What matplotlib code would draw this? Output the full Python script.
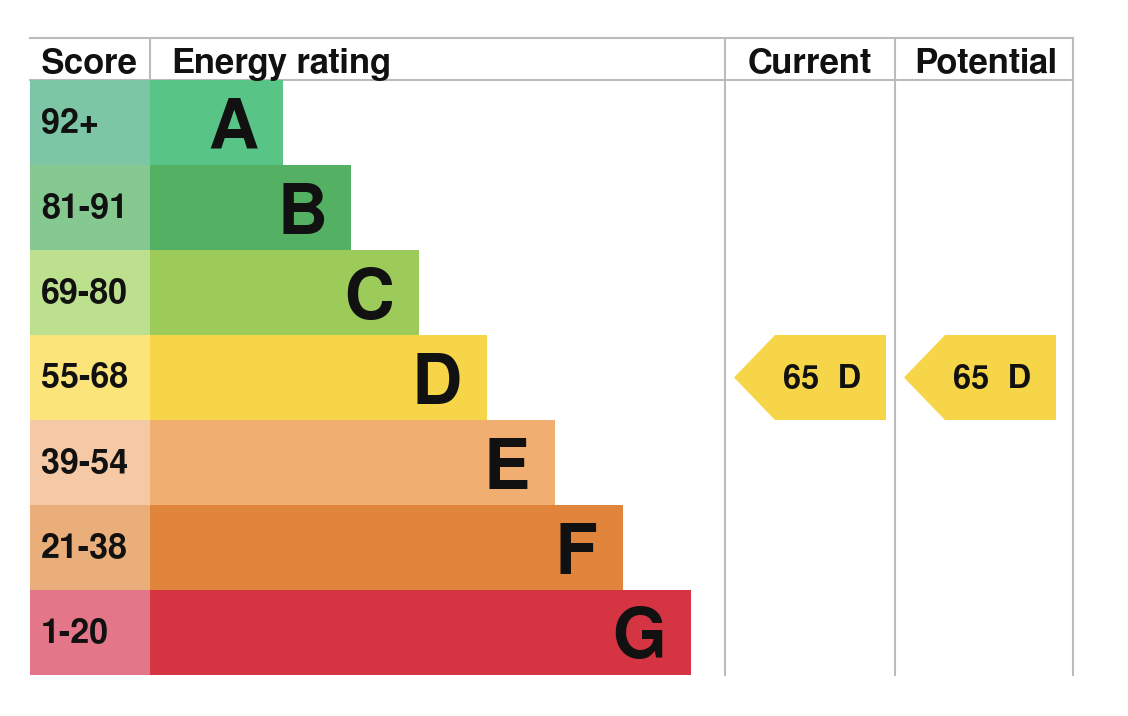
import matplotlib.pyplot as plt
from matplotlib.patches import Polygon

# EPC bands
bands = ['A', 'B', 'C', 'D', 'E', 'F', 'G']
scores = ['92+', '81-91', '69-80', '55-68', '39-54', '21-38', '1-20']
score_colors = ['#7cc5a5', '#86c990', '#bde08f', '#fbe57a', '#f5c9a5', '#e9ae7a', '#e37789']
bar_colors = ['#58c486', '#54b062', '#9ccb5a', '#f7d548', '#f0ae70', '#e0853b', '#d53443']
headers = ['Score', 'Energy rating', 'Current', 'Potential']
current_score, current_band = 65, 'D'
potential_score, potential_band = 65, 'D'

plt.rcParams['font.family'] = ['FreeSans', 'Liberation Sans', 'DejaVu Sans']
plt.rcParams['font.weight'] = 'bold'

W, H = 1128, 716
fig = plt.figure(figsize=(W / 100, H / 100), dpi=100)
ax = fig.add_axes([0, 0, 1, 1])
ax.set_xlim(0, W)
ax.set_ylim(H, 0)
ax.axis('off')

# layout (pixels)
left, score_w, top, head_h, row_h = 30, 120, 38, 42, 85
bar_left = left + score_w
cols = [725, 895, 1073]
bar_base, bar_step = 65, 68
grid_c = '#bbbbbb'
ink = '#111111'

y0 = top + head_h
centers = [y0 + row_h * (i + 0.5) for i in range(len(bands))]

# grid
ax.plot([left, cols[-1]], [top, top], color=grid_c, lw=1.5)
ax.plot([left, cols[-1]], [y0, y0], color=grid_c, lw=1.5)
ax.plot([bar_left, bar_left], [top, y0], color=grid_c, lw=1.5)
for c in cols:
    ax.plot([c, c], [top, y0 + row_h * len(bands)], color=grid_c, lw=1.5)

# score cells and bars
widths = [bar_base + bar_step * (i + 1) for i in range(len(bands))]
ax.barh(centers, [score_w] * len(bands), left=left, height=row_h, color=score_colors, zorder=2)
ax.barh(centers, widths, left=bar_left, height=row_h, color=bar_colors, zorder=2)
for i, (b, s) in enumerate(zip(bands, scores)):
    ax.text(left + 11, centers[i] + 10, s, fontsize=24.5, ha='left', va='baseline', color=ink, zorder=3)
    ax.text(bar_left + widths[i] - 25, centers[i] + 25.5, b, fontsize=50,
            ha='right', va='baseline', color=ink, zorder=3)

# headers
hb = 73
ax.text(left + 11, hb, headers[0], fontsize=25, ha='left', va='baseline', color=ink)
ax.text(bar_left + 22, hb, headers[1], fontsize=25, ha='left', va='baseline', color=ink)
ax.text((cols[0] + cols[1]) / 2, hb, headers[2], fontsize=25, ha='center', va='baseline', color=ink)
ax.text((cols[1] + cols[2]) / 2 + 2, hb, headers[3], fontsize=25, ha='center', va='baseline', color=ink)


def arrow(col_l, score, band):
    i = bands.index(band)
    yt, yb, yc = centers[i] - row_h / 2, centers[i] + row_h / 2, centers[i]
    xl, xr, xs = col_l + 9, col_l + 161, col_l + 50
    ax.add_patch(Polygon([(xl, yc), (xs, yt), (xr, yt), (xr, yb), (xs, yb)],
                         closed=True, color=bar_colors[i], lw=0, zorder=2))
    ax.text(col_l + 58, yc + 10.5, f'{score}  {band}', fontsize=23.5,
            ha='left', va='baseline', color=ink, zorder=3)


arrow(cols[0], current_score, current_band)
arrow(cols[1], potential_score, potential_band)

fig.savefig('out.png', dpi=100)
